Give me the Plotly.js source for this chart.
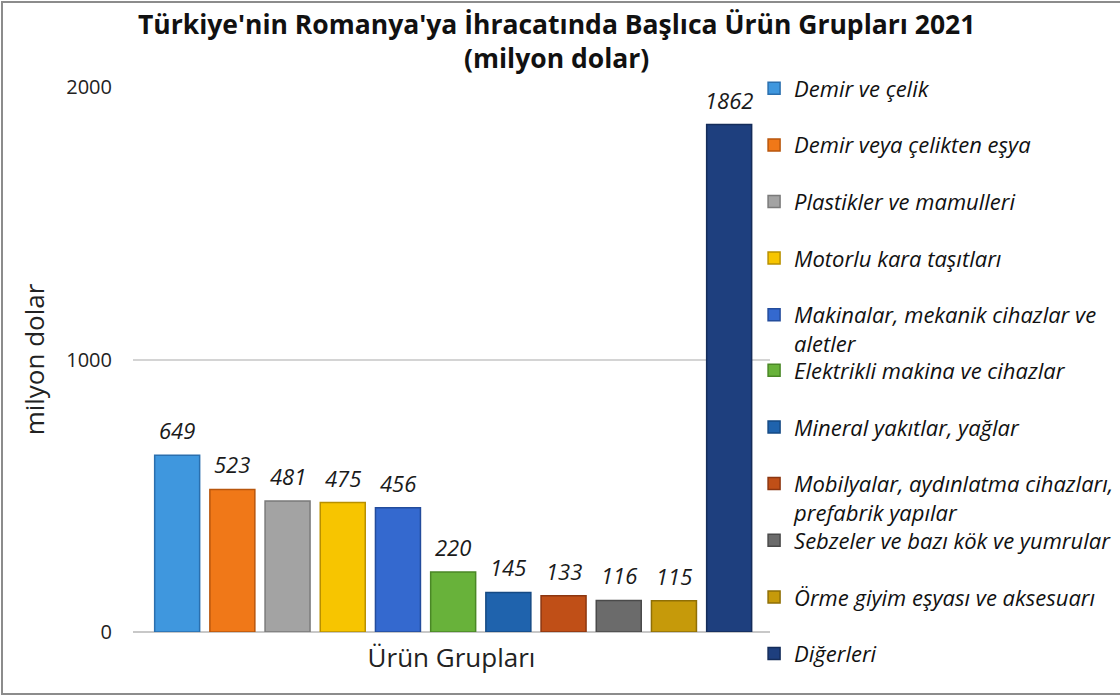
<!DOCTYPE html>
<html>
<head>
<meta charset="utf-8">
<script src="https://cdn.plot.ly/plotly-3.0.1.min.js"></script>
<style>
  html, body { margin: 0; padding: 0; background: #fff; }
  #wrap { position: relative; width: 1120px; height: 698px; overflow: hidden; }
  #chart { width: 1120px; height: 698px; }
  #frame { position: absolute; left: 1px; top: 1px; width: 1125px; height: 694px; border: 2px solid #8c8c8c; pointer-events: none; box-sizing: border-box; }
</style>
</head>
<body>
<div id="wrap"><div id="chart"></div><div id="frame"></div></div>
<script>
const categories = [
  "Demir ve çelik",
  "Demir veya çelikten eşya",
  "Plastikler ve mamulleri",
  "Motorlu kara taşıtları",
  "Makinalar, mekanik cihazlar ve<br>aletler",
  "Elektrikli makina ve cihazlar",
  "Mineral yakıtlar, yağlar",
  "Mobilyalar, aydınlatma cihazları,<br>prefabrik yapılar",
  "Sebzeler ve bazı kök ve yumrular",
  "Örme giyim eşyası ve aksesuarı",
  "Diğerleri"
];
const values = [649, 523, 481, 475, 456, 220, 145, 133, 116, 115, 1862];
const colors = ["#3f97de", "#f07818", "#a3a3a3", "#f7c500", "#3469cf", "#68b23a", "#1f63ad", "#c04f17", "#6b6b6b", "#c69a0a", "#1e3f7e"];
const edges  = ["#2a6fae", "#b8560c", "#7a7a7a", "#b89000", "#234c9c", "#4a8726", "#154a84", "#8c3610", "#4a4a4a", "#8f6f06", "#142c5a"];
const legendOf = ["legend","legend","legend","legend","legend","legend2","legend2","legend2","legend3","legend3","legend3"];
const yTicks = [0, 1000, 2000];

const font = "'Open Sans', 'Noto Sans', sans-serif";

const traces = categories.map((c, i) => ({
  type: "bar",
  name: c,
  x: [i],
  y: [values[i]],
  width: 0.815,
  legend: legendOf[i],
  legendgroup: "g" + i,
  marker: { color: colors[i], line: { color: edges[i], width: 1.5 } },
  hoverinfo: "skip"
}));

const annotations = values.map((v, i) => ({
  x: i, y: v, xref: "x", yref: "y",
  text: String(v), showarrow: false,
  yanchor: "bottom", yshift: 8,
  font: { family: font, size: 22, color: "#1a1a1a", style: "italic" }
}));

const legendBase = {
  xanchor: "left", yanchor: "top", x: 0.975,
  traceorder: "grouped", tracegroupgap: 25, valign: "top",
  bgcolor: "rgba(0,0,0,0)",
  font: { family: font, size: 22, color: "#111", style: "italic" }
};

const layout = {
  width: 1120, height: 698,
  paper_bgcolor: "#fff", plot_bgcolor: "#fff",
  margin: { l: 133, r: 350, t: 87, b: 66, autoexpand: false },
  barmode: "overlay",
  showlegend: true,
  title: {
    text: "<b>Türkiye'nin Romanya'ya İhracatında Başlıca Ürün Grupları 2021<br>(milyon dolar)</b>",
    font: { family: font, size: 26.5, color: "#111" },
    x: 0.497, xanchor: "center", y: 0.952, yanchor: "top"
  },
  xaxis: {
    range: [-0.8, 10.74], showticklabels: false, showgrid: false,
    zeroline: false, showline: false, ticks: "", automargin: false,
    title: { text: "Ürün Grupları", font: { family: font, size: 26, color: "#222" }, standoff: 16 }
  },
  yaxis: {
    range: [0, 2000], tickvals: yTicks, ticktext: yTicks.map(String),
    showgrid: true, gridcolor: "#d4d4d4", gridwidth: 2,
    zeroline: true, zerolinecolor: "#c8c8c8", zerolinewidth: 2,
    showline: false, ticks: "", ticklabelstandoff: 20, automargin: false,
    tickfont: { family: font, size: 20, color: "#222" },
    title: { text: "milyon dolar", font: { family: font, size: 26, color: "#222" }, standoff: 14 }
  },
  legend: Object.assign({}, legendBase, { y: 1.0358 }),
  legend2: Object.assign({}, legendBase, { y: 0.5183 }),
  legend3: Object.assign({}, legendBase, { y: 0.2064 }),
  annotations: annotations
};

Plotly.newPlot("chart", traces, layout, { displayModeBar: false, staticPlot: true });
</script>
</body>
</html>
